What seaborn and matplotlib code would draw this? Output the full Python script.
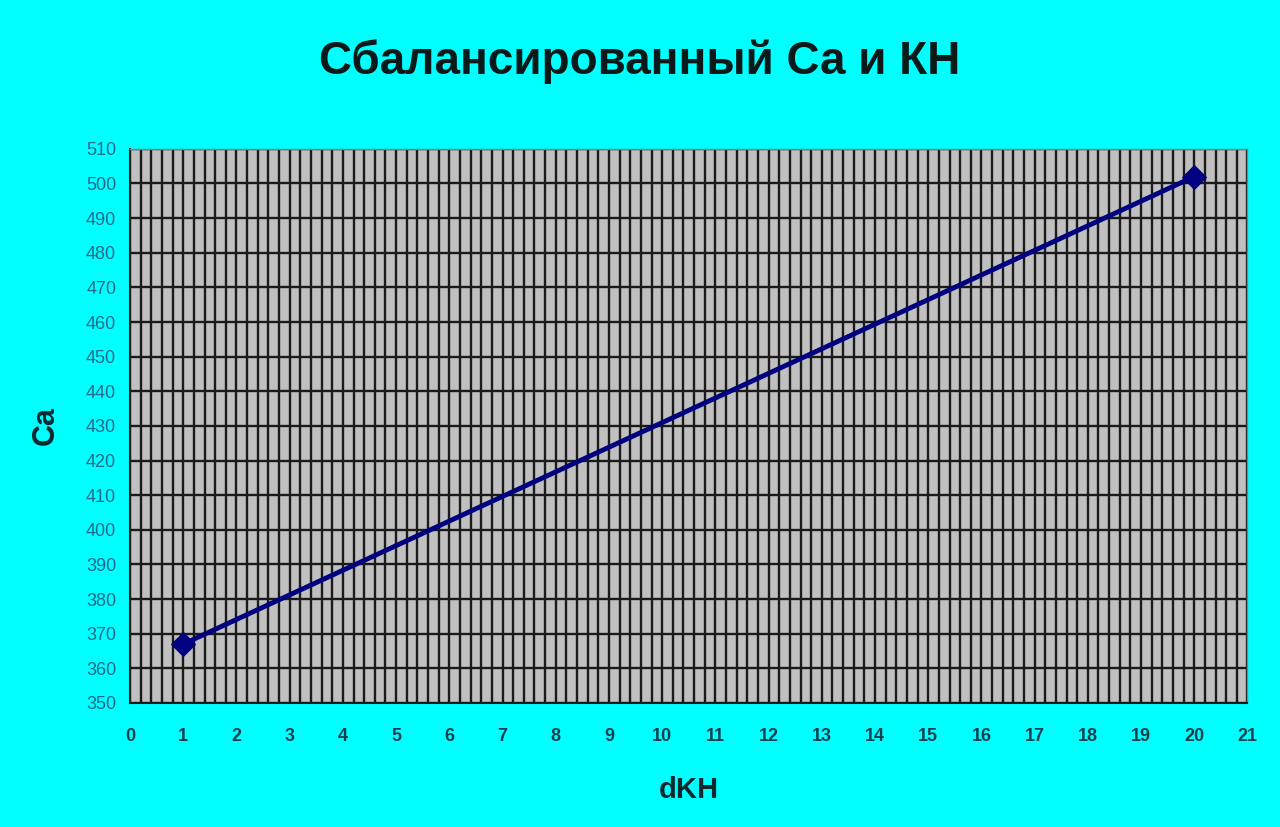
import numpy as np
import pandas as pd
import matplotlib
matplotlib.use("Agg")
import matplotlib.pyplot as plt
import seaborn as sns

# Data
dkh = [1, 20]
ca = [367, 502]
DAT = pd.DataFrame({"dKH": dkh, "Ca": ca})

sns.set_style("white")
plt.rcParams["font.family"] = ["Liberation Sans", "DejaVu Sans"]

fig = plt.figure(figsize=(12.8, 8.27), dpi=100, facecolor="#00ffff")
ax = fig.add_axes([0.1016, 0.150, 0.873, 0.670])
ax.set_facecolor("#c0c0c0")

sns.lineplot(data=DAT, x="dKH", y="Ca", color="#000080", lw=3.5, marker="D",
             markersize=12, markeredgecolor="#000080", ax=ax, zorder=5)

ax.set_xlim(0, 21)
ax.set_ylim(350, 510)
ax.set_xticks(np.arange(0, 22, 1))
ax.set_xticks(np.arange(0, 21.01, 0.2), minor=True)
ax.set_yticks(np.arange(350, 511, 10))

# grid: dense verticals, horizontals every 10
ax.grid(which="minor", axis="x", color="#1a1a1a", lw=1.7)
ax.grid(which="major", axis="x", color="#1a1a1a", lw=1.7)
ax.grid(which="major", axis="y", color="#1a1a1a", lw=1.7)
ax.set_axisbelow(True)

for s in ["top", "right"]:
    ax.spines[s].set_color("#808080")
    ax.spines[s].set_linewidth(1)
for s in ["left", "bottom"]:
    ax.spines[s].set_color("#1a1a1a")
    ax.spines[s].set_linewidth(1.5)

ax.tick_params(axis="both", which="major", direction="out", length=6, width=1.5, color="#1a1a1a")
ax.tick_params(axis="x", which="minor", length=0)
ax.tick_params(axis="y", labelsize=13, labelcolor="#1f6a8a", pad=4)
ax.tick_params(axis="x", labelsize=13, labelcolor="#0f4050", pad=12)
for lbl in ax.get_xticklabels():
    lbl.set_fontweight("bold")

ax.set_xlabel("dKH", fontsize=21, fontweight="bold", color="#0a2a30", labelpad=22)
ax.set_ylabel("Ca", fontsize=22, fontweight="bold", color="#0a2a30", labelpad=18)

fig.suptitle("Сбалансированный Са и КН", fontsize=33, fontweight="bold",
             color="#0a1a1a", y=0.952)

fig.savefig("out.png", dpi=100, facecolor=fig.get_facecolor())
